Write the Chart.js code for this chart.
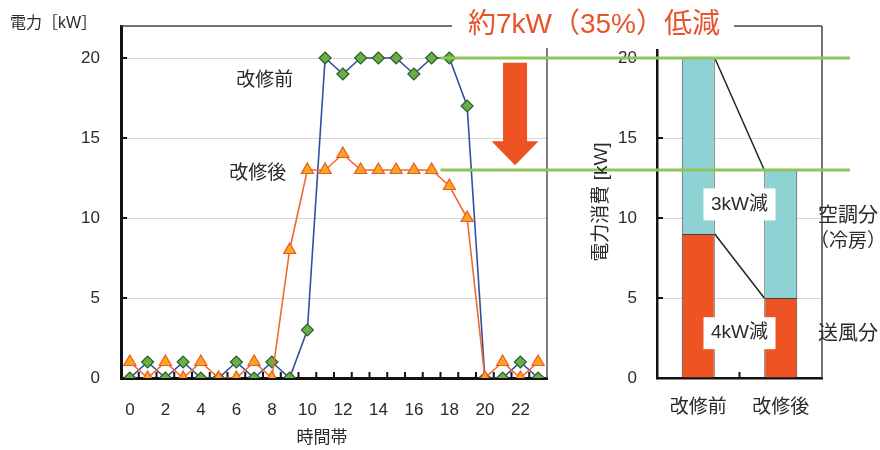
<!DOCTYPE html>
<html><head><meta charset="utf-8">
<script src="https://cdn.jsdelivr.net/npm/chart.js@4.4.1/dist/chart.umd.min.js"></script>
<style>
html,body{margin:0;padding:0;background:#fff;}
#wrap{position:relative;width:880px;height:450px;overflow:hidden;}
canvas{position:absolute;left:0;top:0;}
</style></head><body>
<div id="wrap">
<canvas id="left" width="880" height="450"></canvas>
<canvas id="right" width="880" height="450"></canvas>
<canvas id="over" width="880" height="450"></canvas>
</div>
<script>
// ---- data ----
const hourLabels = ['0','1','2','3','4','5','6','7','8','9','10','11','12','13','14','15','16','17','18','19','20','21','22','23'];
const beforeKW = [0,1,0,1,0,0,1,0,1,0,3,20,19,20,20,20,19,20,20,17,0,0,1,0];
const afterKW  = [1,0,1,0,1,0,0,1,0,8,13,13,14,13,13,13,13,13,12,10,0,1,0,1];
const barCategories = ['改修前','改修後'];
const fanKW = [9,5];   // 送風分
const acKW  = [11,8];  // 空調分（冷房）
const yTickValues = [0,5,10,15,20];
const peakBefore = 20, peakAfter = 13;

const FONT = '"Liberation Sans","Noto Sans CJK JP",sans-serif';
const TXT = '#2a2a2a';
const keepTicks = s => { s.ticks = s.ticks.filter(t => yTickValues.includes(t.value)); };

const leftChart = new Chart(document.getElementById('left'), {
  type: 'line',
  data: {
    labels: hourLabels,
    datasets: [
      { label: '改修後', data: afterKW, order: 0, borderColor: '#ef6a30', borderWidth: 1.6,
        pointStyle: 'triangle', pointRadius: 7, pointBackgroundColor: '#f9a51e',
        pointBorderColor: '#ec5a24', pointBorderWidth: 1.2, tension: 0 },
      { label: '改修前', data: beforeKW, order: 1, borderColor: '#2f4f9f', borderWidth: 1.6,
        pointStyle: 'rectRot', pointRadius: 6, pointBackgroundColor: '#68b046',
        pointBorderColor: '#2d5e2a', pointBorderWidth: 1.2, tension: 0 }
    ]
  },
  options: {
    responsive: false, animation: false, devicePixelRatio: 1,
    layout: { padding: { left: 0, top: 26, right: 333, bottom: 0 } },
    plugins: { legend: { display: false }, tooltip: { enabled: false } },
    scales: {
      x: {
        offset: true,
        grid: { display: false, drawTicks: false },
        border: { display: true, color: '#111', width: 3 },
        ticks: { autoSkip: false, maxRotation: 0, padding: 22, color: TXT,
                 font: { family: FONT, size: 17 },
                 callback: (v, i) => (i % 2 === 0 ? hourLabels[i] : '') },
        afterFit: s => { s.height = 72; s.paddingLeft = 0; s.paddingRight = 0; }
      },
      y: {
        min: 0, max: 22,
        ticks: { stepSize: 5, includeBounds: false, padding: 21, color: TXT, font: { family: FONT, size: 17 } },
        afterBuildTicks: keepTicks,
        grid: { color: '#d6d6d6', lineWidth: 1, drawTicks: false },
        border: { display: true, color: '#111', width: 3 },
        afterFit: s => { s.width = 121; s.paddingTop = 0; s.paddingBottom = 0; }
      }
    }
  }
});

const rightChart = new Chart(document.getElementById('right'), {
  type: 'bar',
  data: {
    labels: barCategories,
    datasets: [
      { label: '送風分', data: fanKW, backgroundColor: '#ee5323', borderColor: '#444', borderWidth: 1,
        barPercentage: 0.5, categoryPercentage: 0.8 },
      { label: '空調分', data: acKW, backgroundColor: '#8fd2d3', borderColor: '#444', borderWidth: 1,
        barPercentage: 0.5, categoryPercentage: 0.8 }
    ]
  },
  options: {
    responsive: false, animation: false, devicePixelRatio: 1,
    layout: { padding: { left: 0, top: 50, right: 58, bottom: 0 } },
    plugins: { legend: { display: false }, tooltip: { enabled: false } },
    scales: {
      x: {
        stacked: true,
        grid: { display: false, drawTicks: false },
        border: { display: true, color: '#111', width: 2.5 },
        ticks: { padding: 18, color: TXT, font: { family: FONT, size: 19 } },
        afterFit: s => { s.height = 72; s.paddingLeft = 0; s.paddingRight = 0; }
      },
      y: {
        stacked: true, min: 0, max: 20.5,
        ticks: { stepSize: 5, includeBounds: false, padding: 20, color: TXT, font: { family: FONT, size: 17 } },
        afterBuildTicks: keepTicks,
        grid: { color: '#d6d6d6', lineWidth: 1, drawTicks: false },
        border: { display: true, color: '#111', width: 2.5 },
        afterFit: s => { s.width = 657; s.paddingTop = 0; s.paddingBottom = 0; }
      }
    }
  }
});

// ---- overlay annotations ----
(function () {
  const ctx = document.getElementById('over').getContext('2d');
  const lx = leftChart.scales.x, ly = leftChart.scales.y;
  const rx = rightChart.scales.x, ry = rightChart.scales.y;
  const LA = leftChart.chartArea, RA = rightChart.chartArea;

  function line(x1, y1, x2, y2, color, w) {
    ctx.beginPath(); ctx.moveTo(x1, y1); ctx.lineTo(x2, y2);
    ctx.strokeStyle = color; ctx.lineWidth = w; ctx.stroke();
  }
  function text(s, x, y, size, color, align) {
    ctx.font = size + 'px ' + FONT; ctx.fillStyle = color;
    ctx.textAlign = align || 'center'; ctx.textBaseline = 'middle';
    ctx.fillText(s, x, y);
  }

  // inner tick marks
  yTickValues.slice(1).forEach(v => {
    line(LA.left + 1, ly.getPixelForValue(v), LA.left + 6, ly.getPixelForValue(v), '#111', 2);
    line(RA.left + 1, ry.getPixelForValue(v), RA.left + 6, ry.getPixelForValue(v), '#111', 2);
  });
  for (let i = 0; i < hourLabels.length - 1; i++) {
    const x = lx.getPixelForValue(i + 0.5);
    line(x, LA.bottom - 1, x, LA.bottom - 6, '#111', 2);
  }
  line(rx.getPixelForValue(0.5), RA.bottom - 1, rx.getPixelForValue(0.5), RA.bottom - 6, '#111', 2);

  // right border of the left plot
  line(LA.right, RA.top - 2, LA.right, LA.bottom, '#555', 1.5);

  // bracket + headline
  const title = '約7kW（35%）低減';
  const topY = ly.getPixelForValue(22);
  ctx.font = '28px ' + FONT;
  const tw = ctx.measureText(title).width;
  const tcx = 594;
  line(LA.left, topY, tcx - tw / 2 - 16, topY, '#444', 1.5);
  line(tcx + tw / 2 + 14, topY, RA.right, topY, '#444', 1.5);
  line(RA.right, topY, RA.right, RA.bottom, '#444', 1.5);
  text(title, tcx, topY - 1, 28, '#e8532a');

  // connector lines between bars
  const m0 = rightChart.getDatasetMeta(0).data;
  const b0r = m0[0].x + m0[0].width / 2, b1l = m0[1].x - m0[1].width / 2;
  line(b0r, ry.getPixelForValue(fanKW[0] + acKW[0]), b1l, ry.getPixelForValue(fanKW[1] + acKW[1]), '#222', 1.5);
  line(b0r, ry.getPixelForValue(fanKW[0]), b1l, ry.getPixelForValue(fanKW[1]), '#222', 1.5);

  // reduction labels
  const mx = (b0r + b1l) / 2;
  [['3kW減', 10.85], ['4kW減', 2.8]].forEach(([s, v]) => {
    const cy = ry.getPixelForValue(v);
    ctx.fillStyle = '#fff'; ctx.fillRect(mx - 36, cy - 16, 72, 32);
    text(s, mx, cy, 19, TXT);
  });

  // green peak lines
  const gx1 = lx.getPixelForValue(17.5), gx2 = RA.right + 28;
  [peakBefore, peakAfter].forEach(v => {
    const y = ly.getPixelForValue(v);
    line(gx1, y, gx2, y, '#8cc65a', 3);
  });

  // red arrow
  const ax = lx.getPixelForValue(21.7);
  const aTop = ly.getPixelForValue(19.7), aHead = ly.getPixelForValue(14.8), aTip = ly.getPixelForValue(13.3);
  ctx.beginPath();
  ctx.moveTo(ax - 12, aTop); ctx.lineTo(ax + 12, aTop); ctx.lineTo(ax + 12, aHead);
  ctx.lineTo(ax + 23.5, aHead); ctx.lineTo(ax, aTip); ctx.lineTo(ax - 23.5, aHead);
  ctx.lineTo(ax - 12, aHead); ctx.closePath();
  ctx.fillStyle = '#ee5222'; ctx.fill();

  // text labels
  text('電力［kW］', 10, 24, 16, TXT, 'left');
  text('改修前', lx.getPixelForValue(7.6), ly.getPixelForValue(18.6), 19, TXT);
  text('改修後', lx.getPixelForValue(7.2), ly.getPixelForValue(12.75), 19, TXT);
  text('時間帯', (LA.left + LA.right) / 2 - 12, 438, 17, TXT);
  text('空調分', 848, ry.getPixelForValue(10.1), 20, TXT);
  text('（冷房）', 848, ry.getPixelForValue(8.5), 19, TXT);
  text('送風分', 848, ry.getPixelForValue(2.7), 20, TXT);

  ctx.save();
  ctx.translate(602, ry.getPixelForValue(11.0));
  ctx.rotate(-Math.PI / 2);
  text('電力消費 [kW]', 0, 0, 19, TXT);
  ctx.restore();
})();
</script>
</body></html>
